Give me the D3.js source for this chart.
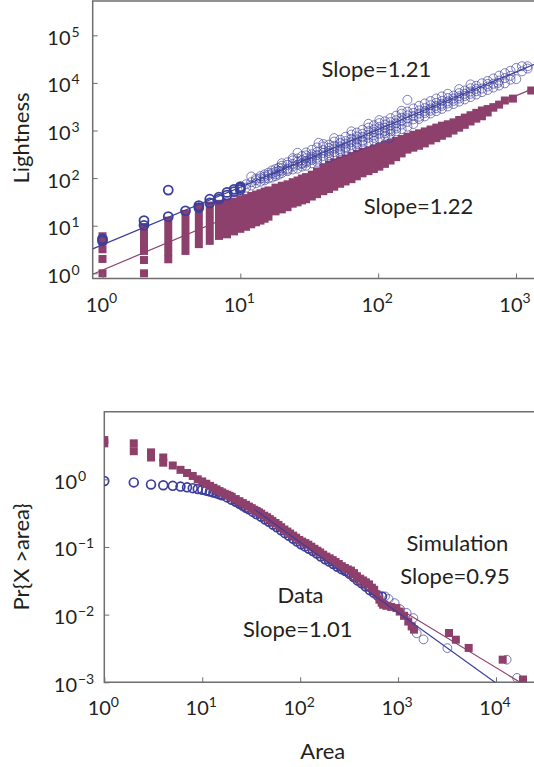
<!DOCTYPE html>
<meta charset="utf-8">
<style>
  body { margin: 0; background: #fff; }
  svg { display: block; }
  text { font-family: Lato, 'Open Sans', sans-serif; fill: #231f20; }
</style>
<body>
<div id="chart"></div>
<script src="https://d3js.org/d3.v7.min.js"></script>
<script>
// ---------- top panel: Lightness vs area ----------
var topXTicks = [1, 10, 100, 1000];
var topYTicks = [1, 10, 100, 1000, 1e4, 1e5];

// data (circles): [area, [lightness values...]]
var topData = [
  [1,[4.8,5.3]],[2,[10.2,12.8]],[3,[15.5,56]],[4,[20.5]],[5,[26.5,24]],[6,[30,36]],[7,[36,40]],
  [8,[44,50]],[9,[52,58]],[10,[57,66,62]],[11,[63,74]],[12,[70,82,108]],[13,[78,90,98]],[14,[84,99,110]],
  [15,[90,108,120,98]],[16,[98,116,130]],[17,[103,126,145]],[18,[110,135,155,120]],[19,[118,142,165]],
  [20,[128,143,161,182,205]],[22,[140,158,190,215,150]],[24,[152,176,198,236,262]],
  [26,[158,190,222,258,340]],[28,[175,208,236,290,198]],[30,[182,228,262,300,345,212]],
  [33,[205,240,283,318,392,258]],[36,[220,268,305,352,440,245]],[37,[550]],
  [40,[248,292,338,385,462,520]],[44,[270,335,372,430,505,300]],[48,[300,352,418,478,585,690]],
  [53,[330,405,462,545,640,372]],[58,[365,448,530,598,740,420]],[64,[415,498,575,668,820,960]],
  [70,[445,560,650,745,905,520]],[77,[505,620,735,852,1040,580]],[85,[560,700,810,965,1150,1380]],
  [93,[610,790,925,1050,1290,700]],[102,[690,860,1010,1180,1430,1650]],[112,[760,980,1140,1330,1560,870]],
  [120,[690]],[123,[850,1080,1270,1500,1820,960]],[135,[960,1220,1420,1640,2050,1100]],
  [148,[1070,1330,1600,1850,2260,2600]],[163,[1210,1520,1800,2080,2500,4400]],
  [180,[1370,1720,2010,2340,2900]],[198,[1750,1950,2280,2640,3300]],[218,[1980,2330,2580,2950,3700]],
  [240,[2280,2600,2900,3400,4150]],[264,[2550,2950,3300,3800,4700]],[290,[2850,3300,3650,4200,5200]],
  [320,[3200,3700,4100,4800,5900]],[352,[3600,4200,4700,5400]],[387,[4050,4700,5250,6100,7400]],
  [425,[4500,5300,5900,6900]],[468,[5050,5900,6600,7700,9300]],[515,[5700,6700,7500,8700]],
  [566,[6400,7600,9800]],[623,[7100,8400,9500,11000]],[685,[8000,9600,12400]],[740,[10000]],
  [754,[8800,11200,14200]],[830,[12600,16000,9800]],[913,[14100,18000,11700]],[1004,[20500,12000]],
  [1105,[22400,17500]],[1215,[22400,20000]]
];

// simulation (squares): [area, lowest, highest] of each column of squares
var topSim = [
  [1,4.8,6.0],[1,3.2,3.2],[1,2.0,2.0],[1,1.0,1.0],
  [2,2.95,9.4],[2,1.9,1.9],[2,1.0,1.0],
  [3,2.8,12.8],[3,1.97,1.97],
  [4,2.95,17.7],[5,4.1,24.5],[6,4.8,26.5],[7,6.1,28.8],[8,6.6,30],
  [9,7.6,32],[10,8.6,36],[11,9.5,38],[12,10.7,42],[13,11.8,45],[14,12.8,48],[15,14,52],[16,15.5,55],
  [18,20,63],[20,22,69],[22,24.5,74],[24,29,82],[26,31,89],[28,34,98],[30,36,105],[33,41,118],
  [36,46,138],[40,53,167],[44,59,191],[48,66,214],[53,76,235],[58,85,258],[64,95,289],[70,109,324],
  [77,126,356],[85,140,381],[93,155,418],[102,174,458],[112,199,503],[123,234,551],[135,275,603],
  [148,330,662],[163,397,742],[180,436,814],[198,478,873],[218,536,957],[240,616,1049],[264,690,1150],
  [290,775,1262],[320,869,1352],[352,998,1482],[387,1146,1663],[425,1315,1866],[468,1546,2093],
  [515,1775,2348],[566,1992,2635],[623,2394,2823],[685,3014,3096],[754,3500,3500],[830,4266,4266],
  [950,4677,4677],[1290,6918,6918]
];

// power-law fits: y = k * x^slope  (data, simulation)
var topFitSlope = [1.21, 1.22];
var topFitK = [3.98, 1.17];

// ---------- bottom panel: Pr{X > area} ----------
var botXTicks = [1, 10, 100, 1000, 1e4];
var botYTicks = [1e-3, 1e-2, 1e-1, 1];

var botDataX = [1,2,3,4,5,6,7,8,9,10,11,12,13,14,15,16,18,20,22,24,26,28,30,33,36,40,44,48,53,58,64,70,77,85,93,
  102,112,123,135,148,163,180,198,218,240,264,290,320,352,387,425,468,515,566,623,685,
  736,800,923,1050,1222,1432,1550,1820,3190,12850,16400];
var botDataY = [0.944,0.90,0.84,0.815,0.80,0.78,0.76,0.74,0.72,0.70,0.68,0.66,0.64,0.62,0.60,0.58,
  0.54,0.50,0.465,0.435,0.405,0.38,0.36,0.33,0.305,0.28,0.255,0.235,0.213,0.195,0.177,0.16,0.146,0.132,0.12,
  0.11,0.102,0.094,0.087,0.08,0.072,0.066,0.061,0.056,0.051,0.047,0.044,0.040,0.036,0.032,0.029,0.026,0.023,0.021,0.019,0.0185,
  0.0186,0.017,0.0148,0.012,0.0106,0.0089,0.0053,0.0043,0.0032,0.00216,0.00116];

var botSimX = [1,1,2,2,3,3,4,4,5,6,7,8,9,10,11,12,13,14,15,16,17,18,19,20,22,24,26,28,30,32,34,36,38,40,
  43,46,49,52,56,60,64,69,74,79,85,91,98,105,113,121,130,140,150,160,172,185,200,215,230,248,266,286,307,330,
  355,380,410,440,470,505,540,570,600,645,680,703,760,850,961,1040,1151,1271,1377,1456,3311,3890,5260,11700,18870];
var botSimY = [3.8,3.4,3.4,2.6,2.5,2.1,2.1,1.76,1.6,1.38,1.24,1.12,1.0,0.93,0.86,0.80,0.75,0.71,0.67,0.64,0.61,0.59,0.57,0.55,
  0.51,0.475,0.445,0.42,0.395,0.375,0.355,0.34,0.325,0.31,0.29,0.275,0.258,0.243,0.226,0.212,0.196,0.181,0.169,0.158,0.147,0.137,0.127,
  0.12,0.114,0.108,0.101,0.094,0.088,0.083,0.077,0.072,0.068,0.064,0.06,0.056,0.052,0.049,0.0465,0.0447,0.041,0.037,0.034,
  0.032,0.03,0.028,0.025,0.0233,0.02,0.0166,0.015,0.014,0.0135,0.013,0.0125,0.0111,0.0096,0.0079,0.0067,0.006,
  0.00535,0.00426,0.00322,0.00216,0.0011];

// fits: y = k * x^slope, drawn from xStart to the edge  (data, simulation)
var botFitSlope = [-1.04, -0.88];
var botFitK = [14.1, 5.45];
var botFitStart = [34, 300];

// ---------- drawing ----------
var blue = "#3c3e9b", plum = "#8e406c", grey = "#6d6e70";
var svg = d3.select("#chart").append("svg").attr("width", 534).attr("height", 767);

function sup(v) {
  var e = Math.round(Math.log10(v));
  return e < 0 ? "\u2212" + (-e) : String(e);
}

function frame(box, id) {
  svg.append("clipPath").attr("id", id).append("rect")
    .attr("x", box.left).attr("y", box.top)
    .attr("width", box.right - box.left).attr("height", box.bottom - box.top);
  svg.append("path")
    .attr("d", "M" + box.right + "," + box.top + "H" + box.left + "V" + box.bottom + "H" + box.right)
    .attr("fill", "none").attr("stroke", grey).attr("stroke-width", 1.5);
}

function axes(x, y, box, xTicks, yTicks, xBase, yEnd) {
  svg.append("g").attr("transform", "translate(0," + box.bottom + ")").attr("color", grey)
    .call(d3.axisBottom(x).tickValues(xTicks).tickSize(-5).tickFormat(""))
    .call(g => g.select(".domain").remove());
  svg.append("g").attr("transform", "translate(" + box.left + ",0)").attr("color", grey)
    .call(d3.axisLeft(y).tickValues(yTicks).tickSize(-5).tickFormat(""))
    .call(g => g.select(".domain").remove());

  var xt = svg.append("g").selectAll(null).data(xTicks).join("text")
    .attr("x", d => x(d) - 1).attr("y", xBase)
    .attr("text-anchor", "middle").attr("font-size", 20);
  xt.append("tspan").text("10");
  xt.append("tspan").attr("dy", -8.5).attr("font-size", 14).text(d => sup(d));

  var yl = svg.append("g");
  yl.selectAll(null).data(yTicks).join("text")
    .attr("x", yEnd).attr("y", d => y(d) + 9.5)
    .attr("text-anchor", "end").attr("font-size", 20).text("10");
  yl.selectAll(null).data(yTicks).join("text")
    .attr("x", yEnd + 1).attr("y", d => y(d) + 1.5)
    .attr("font-size", 14).text(d => sup(d));
}

// ----- top panel -----
var box1 = {left: 92.7, top: 1, bottom: 278.5, right: 560};
var x1 = d3.scaleLog().domain([1, 1000]).range([102.5, 516]);
var y1 = d3.scaleLog().domain([1, 1e5]).range([273.3, 35.3]);
frame(box1, "clipTop");

var p1 = svg.append("g").attr("clip-path", "url(#clipTop)");
var sq = 8;
p1.selectAll(null).data(topSim).join("rect")
  .attr("x", d => x1(d[0]) - sq / 2)
  .attr("y", d => y1(d[2]) - sq / 2)
  .attr("width", sq)
  .attr("height", d => y1(d[1]) - y1(d[2]) + sq)
  .attr("fill", plum);

var topPts = topData.flatMap(d => d[1].map(v => [d[0], v]));
p1.selectAll(null).data(topPts).join("circle")
  .attr("cx", d => x1(d[0])).attr("cy", d => y1(d[1])).attr("r", 4.5)
  .attr("fill", "none").attr("stroke", blue)
  .attr("stroke-width", d => d[0] <= 10 ? 1.8 : 1)
  .attr("stroke-opacity", d => d[0] <= 10 ? 1 : 0.65);

var line1 = d3.line().x(d => x1(d[0])).y(d => y1(d[1]));
[blue, plum].forEach(function (c, i) {
  var xs = [x1.invert(box1.left), x1.invert(box1.right)];
  p1.append("path")
    .attr("d", line1(xs.map(v => [v, topFitK[i] * Math.pow(v, topFitSlope[i])])))
    .attr("fill", "none").attr("stroke", c).attr("stroke-width", 1.2);
});

axes(x1, y1, box1, topXTicks, topYTicks, 311.5, 70.5);

svg.append("text").attr("transform", "translate(29,138) rotate(-90)")
  .attr("text-anchor", "middle").attr("font-size", 22).text("Lightness");
svg.append("text").attr("x", 376.4).attr("y", 77.3).attr("text-anchor", "middle")
  .attr("font-size", 22).text("Slope=1.21");
svg.append("text").attr("x", 418.5).attr("y", 214.3).attr("text-anchor", "middle")
  .attr("font-size", 22).text("Slope=1.22");

// ----- bottom panel -----
var box2 = {left: 104.3, top: 411.7, bottom: 682.3, right: 560};
var x2 = d3.scaleLog().domain([1, 1e4]).range([104.3, 496]);
var y2 = d3.scaleLog().domain([1e-3, 1]).range([682.3, 479.3]);
frame(box2, "clipBot");

var p2 = svg.append("g").attr("clip-path", "url(#clipBot)");
p2.selectAll(null).data(botDataX).join("circle")
  .attr("cx", d => x2(d)).attr("cy", (d, i) => y2(botDataY[i])).attr("r", 4.4)
  .attr("fill", "none").attr("stroke", blue)
  .attr("stroke-width", d => d > 700 ? 1 : 1.7)
  .attr("stroke-opacity", d => d > 700 ? 0.7 : 1);

p2.selectAll(null).data(botSimX).join("rect")
  .attr("x", d => x2(d) - sq / 2).attr("y", (d, i) => y2(botSimY[i]) - sq / 2)
  .attr("width", sq).attr("height", sq).attr("fill", plum);

var line2 = d3.line().x(d => x2(d[0])).y(d => y2(d[1]));
[blue, plum].forEach(function (c, i) {
  var xs = [botFitStart[i], x2.invert(box2.right)];
  p2.append("path")
    .attr("d", line2(xs.map(v => [v, botFitK[i] * Math.pow(v, botFitSlope[i])])))
    .attr("fill", "none").attr("stroke", c).attr("stroke-width", 1.2);
});

axes(x2, y2, box2, botXTicks, botYTicks, 715, 77);

svg.append("text").attr("transform", "translate(29.3,556.7) rotate(-90)")
  .attr("text-anchor", "middle").attr("font-size", 22).text("Pr{X >area}");
svg.append("text").attr("x", 322.8).attr("y", 759).attr("text-anchor", "middle")
  .attr("font-size", 22).text("Area");
svg.append("text").attr("x", 457.4).attr("y", 551).attr("text-anchor", "middle")
  .attr("font-size", 22).text("Simulation");
svg.append("text").attr("x", 455).attr("y", 584).attr("text-anchor", "middle")
  .attr("font-size", 22).text("Slope=0.95");
svg.append("text").attr("x", 300.5).attr("y", 603.3).attr("text-anchor", "middle")
  .attr("font-size", 22).text("Data");
svg.append("text").attr("x", 297.8).attr("y", 637.3).attr("text-anchor", "middle")
  .attr("font-size", 22).text("Slope=1.01");
</script>
</body>
